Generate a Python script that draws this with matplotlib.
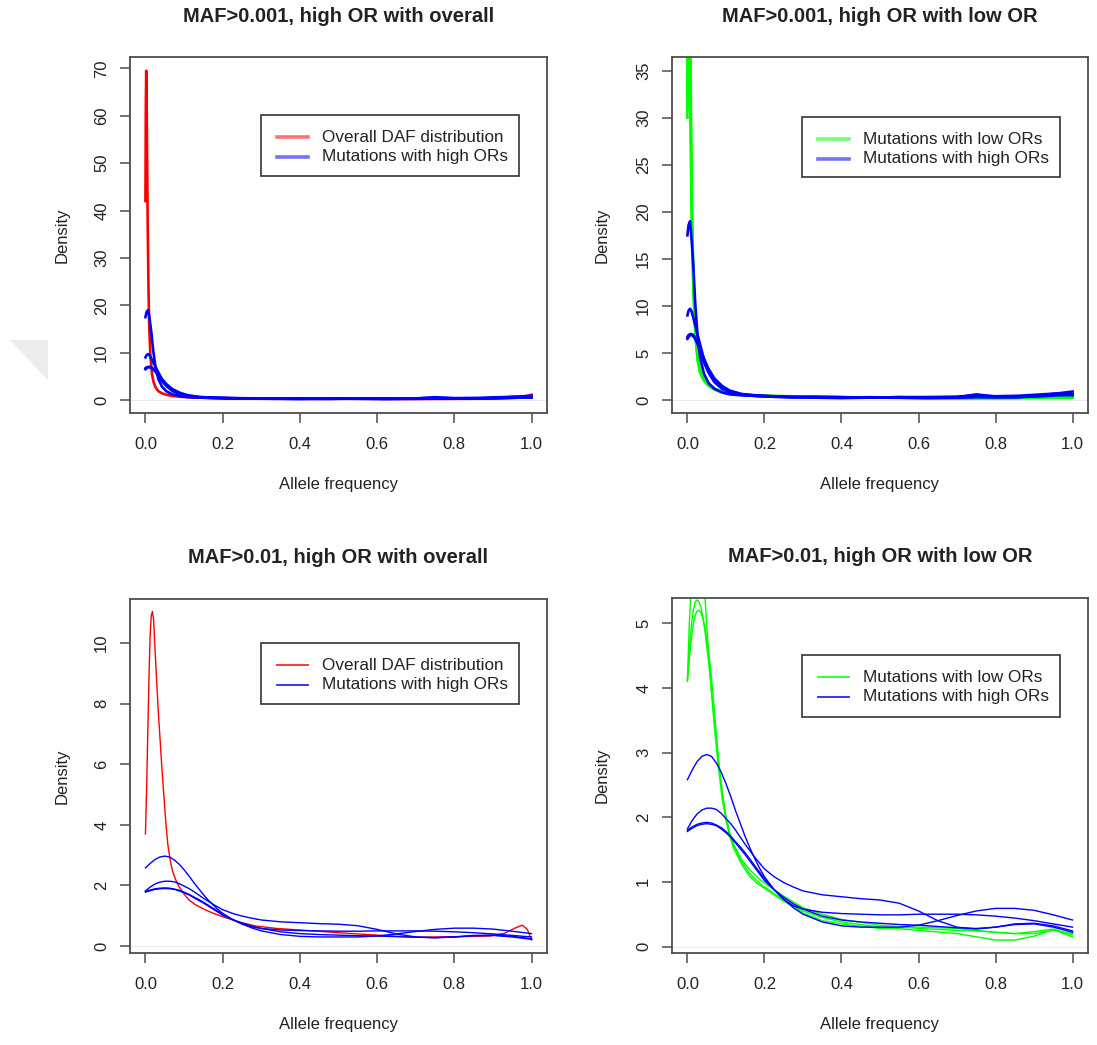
import matplotlib
matplotlib.use("Agg")
import matplotlib.pyplot as plt
from matplotlib.patches import Rectangle, Polygon
import numpy as np

plt.rcParams['font.family'] = ['Liberation Sans', 'DejaVu Sans']

# ---- data (density curves) ----
# MAF>0.001: overall DAF distribution
overall001_x = [0, 0.001, 0.002, 0.003, 0.004, 0.006, 0.008, 0.010, 0.013, 0.017, 0.021,
                0.026, 0.033, 0.043, 0.055, 0.07, 0.09, 0.12, 0.16, 0.22, 0.3, 0.4, 0.5,
                0.6, 0.7, 0.8, 0.9, 0.96, 0.99, 1.0]
overall001_y = [42, 62, 69.5, 64, 54, 36, 23, 15, 9, 5.5, 3.8, 2.7, 1.9, 1.4, 1.1, 0.85,
                0.7, 0.55, 0.45, 0.4, 0.35, 0.3, 0.28, 0.25, 0.22, 0.25, 0.3, 0.45, 0.9, 1.1]

# MAF>0.001: mutations with high ORs (4 sets)
high001_x = [0, 0.003, 0.007, 0.011, 0.015, 0.02, 0.026, 0.033, 0.043, 0.055, 0.07, 0.09,
             0.11, 0.14, 0.18, 0.22, 0.27, 0.33, 0.4, 0.47, 0.55, 0.62, 0.7, 0.75, 0.8,
             0.86, 0.92, 0.96, 1.0]
high001_y = [
    [17.5, 18.6, 19.0, 17.0, 14.5, 10.5, 7.0, 4.5, 2.8, 1.8, 1.2, 0.8, 0.6, 0.5, 0.45,
     0.35, 0.3, 0.35, 0.3, 0.25, 0.3, 0.3, 0.35, 0.5, 0.4, 0.45, 0.6, 0.7, 0.6],
    [9.0, 9.5, 9.7, 9.4, 8.8, 8.0, 7.0, 5.9, 4.3, 3.0, 2.0, 1.3, 0.9, 0.6, 0.5, 0.4, 0.3,
     0.25, 0.2, 0.25, 0.3, 0.25, 0.3, 0.6, 0.35, 0.3, 0.5, 0.7, 0.9],
    [6.7, 6.9, 7.0, 7.0, 6.9, 6.6, 6.1, 5.5, 4.4, 3.3, 2.3, 1.5, 1.0, 0.65, 0.45, 0.35,
     0.3, 0.3, 0.25, 0.3, 0.25, 0.2, 0.25, 0.3, 0.3, 0.35, 0.4, 0.5, 0.6],
    [6.5, 6.7, 6.9, 6.9, 6.8, 6.5, 6.0, 5.2, 4.0, 2.9, 1.9, 1.2, 0.8, 0.55, 0.4, 0.4,
     0.35, 0.3, 0.3, 0.25, 0.3, 0.3, 0.3, 0.35, 0.3, 0.3, 0.45, 0.55, 0.5],
]

# MAF>0.001: mutations with low ORs (3 sets)
low001_x = [0, 0.002, 0.004, 0.006, 0.008, 0.010, 0.012, 0.015, 0.018, 0.022, 0.027,
            0.033, 0.042, 0.055, 0.07, 0.09, 0.12, 0.16, 0.22, 0.3, 0.4, 0.5, 0.6, 0.7,
            0.8, 0.9, 1.0]
low001_y = [
    [30, 40, 44, 40, 33, 24, 18.5, 13.4, 9.5, 6.5, 4.3, 3.0, 2.2, 1.6, 1.2, 0.9, 0.65,
     0.5, 0.4, 0.35, 0.3, 0.25, 0.22, 0.2, 0.2, 0.22, 0.3],
    [33, 42, 48, 44, 36, 27, 20.5, 14.5, 10.2, 7.0, 4.6, 3.2, 2.3, 1.6, 1.2, 0.9, 0.65,
     0.5, 0.45, 0.35, 0.3, 0.28, 0.25, 0.22, 0.2, 0.25, 0.35],
    [31, 38, 41, 38, 31, 23, 17.5, 12.5, 9.0, 6.2, 4.1, 2.9, 2.1, 1.5, 1.1, 0.85, 0.6,
     0.5, 0.4, 0.3, 0.25, 0.25, 0.2, 0.18, 0.2, 0.25, 0.25],
]

# MAF>0.01: overall DAF distribution
overall01_x = [0, 0.003, 0.006, 0.009, 0.012, 0.015, 0.018, 0.021, 0.024, 0.028, 0.033,
               0.038, 0.043, 0.048, 0.053, 0.058, 0.064, 0.07, 0.078, 0.087, 0.1, 0.113,
               0.13, 0.156, 0.18, 0.2, 0.24, 0.286, 0.34, 0.4, 0.5, 0.6, 0.7, 0.806,
               0.893, 0.93, 0.955, 0.976, 0.989, 1.0]
overall01_y = [3.7, 5.2, 7.0, 8.8, 10.2, 10.9, 11.05, 10.8, 10.0, 9.0, 7.8, 6.8, 5.8,
               4.93, 4.05, 3.35, 2.85, 2.48, 2.2, 1.96, 1.72, 1.52, 1.36, 1.19, 1.06,
               0.97, 0.8, 0.66, 0.58, 0.53, 0.44, 0.36, 0.29, 0.31, 0.33, 0.42, 0.58,
               0.69, 0.55, 0.2]

# MAF>0.01: mutations with high ORs (4 sets)
high01_x = [0, 0.0125, 0.025, 0.0375, 0.05, 0.0625, 0.075, 0.0875, 0.1, 0.1125, 0.125,
            0.1375, 0.15, 0.1625, 0.175, 0.1875, 0.2, 0.225, 0.25, 0.275, 0.3, 0.35, 0.4,
            0.45, 0.5, 0.55, 0.6, 0.65, 0.7, 0.75, 0.8, 0.85, 0.9, 0.95, 1.0]
high01_y = [
    [2.58, 2.73, 2.86, 2.94, 2.97, 2.94, 2.84, 2.7, 2.52, 2.32, 2.1, 1.9, 1.7, 1.52,
     1.36, 1.21, 1.08, 0.88, 0.73, 0.63, 0.58, 0.53, 0.51, 0.5, 0.49, 0.49, 0.5, 0.5,
     0.5, 0.49, 0.47, 0.44, 0.4, 0.35, 0.3],
    [1.82, 1.95, 2.05, 2.11, 2.14, 2.14, 2.12, 2.06, 1.98, 1.9, 1.8, 1.69, 1.58, 1.48,
     1.38, 1.29, 1.2, 1.08, 0.99, 0.92, 0.86, 0.8, 0.77, 0.74, 0.72, 0.67, 0.55, 0.4,
     0.3, 0.27, 0.3, 0.35, 0.36, 0.32, 0.24],
    [1.8, 1.85, 1.89, 1.91, 1.92, 1.91, 1.88, 1.84, 1.78, 1.71, 1.62, 1.54, 1.45, 1.35,
     1.25, 1.15, 1.05, 0.88, 0.73, 0.6, 0.5, 0.38, 0.32, 0.3, 0.3, 0.3, 0.33, 0.4, 0.48,
     0.55, 0.59, 0.59, 0.56, 0.49, 0.41],
    [1.78, 1.83, 1.87, 1.89, 1.9, 1.89, 1.87, 1.82, 1.76, 1.69, 1.6, 1.51, 1.42, 1.32,
     1.22, 1.12, 1.02, 0.88, 0.76, 0.66, 0.58, 0.47, 0.41, 0.38, 0.36, 0.34, 0.33, 0.31,
     0.29, 0.28, 0.3, 0.34, 0.35, 0.3, 0.22],
]

# MAF>0.01: mutations with low ORs (3 sets)
low01_x = [0, 0.005, 0.01, 0.015, 0.02, 0.025, 0.03, 0.035, 0.04, 0.045, 0.05, 0.055,
           0.06, 0.065, 0.07, 0.075, 0.08, 0.09, 0.1, 0.11, 0.12, 0.14, 0.16, 0.18, 0.2,
           0.25, 0.3, 0.35, 0.4, 0.5, 0.6, 0.7, 0.75, 0.8, 0.85, 0.9, 0.95, 1.0]
low01_y = [
    [4.12, 4.45, 4.75, 4.98, 5.12, 5.19, 5.2, 5.16, 5.08, 4.95, 4.78, 4.56, 4.3, 4.0,
     3.65, 3.3, 2.95, 2.4, 2.0, 1.75, 1.58, 1.35, 1.2, 1.08, 0.98, 0.78, 0.6, 0.5, 0.42,
     0.33, 0.28, 0.25, 0.24, 0.22, 0.2, 0.23, 0.27, 0.18],
    [4.12, 5.0, 5.6, 6.0, 6.2, 6.3, 6.3, 6.15, 5.85, 5.45, 5.0, 4.55, 4.15, 3.75, 3.4,
     3.1, 2.8, 2.3, 1.95, 1.7, 1.52, 1.28, 1.1, 0.98, 0.9, 0.7, 0.55, 0.45, 0.38, 0.3,
     0.25, 0.2, 0.15, 0.1, 0.1, 0.16, 0.26, 0.15],
    [4.1, 4.6, 4.95, 5.2, 5.32, 5.36, 5.33, 5.25, 5.1, 4.9, 4.65, 4.4, 4.1, 3.8, 3.5,
     3.2, 2.9, 2.4, 2.0, 1.75, 1.56, 1.32, 1.14, 1.02, 0.92, 0.72, 0.52, 0.4, 0.35,
     0.28, 0.3, 0.28, 0.25, 0.22, 0.2, 0.2, 0.25, 0.2],
]

titles = ["MAF>0.001, high OR with overall", "MAF>0.001, high OR with low OR",
          "MAF>0.01, high OR with overall", "MAF>0.01, high OR with low OR"]
legend_overall = ["Overall DAF distribution", "Mutations with high ORs"]
legend_low = ["Mutations with low ORs", "Mutations with high ORs"]
x_ticks = [0.0, 0.2, 0.4, 0.6, 0.8, 1.0]

RED, GREEN, BLUE = "#ff0000", "#00ff00", "#0000ff"
TXT = "#222222"
W, H = 1097, 1045

fig = plt.figure(figsize=(W / 100, H / 100), dpi=100)

# faint grey page artefact at the left edge
fig.patches.append(Polygon([(10 / W, 1 - 340 / H), (48 / W, 1 - 340 / H), (48 / W, 1 - 380 / H)],
                           closed=True, transform=fig.transFigure, facecolor="#ececec",
                           edgecolor="none"))


def make_axes(box):
    l, t, r, b = box
    return fig.add_axes([l / W, 1 - b / H, (r - l) / W, (b - t) / H])


def draw_panel(box, ylim, yticks, title, curves, legend_labels, legend_colors, legbox,
               ylab_x, lw, leg_lw, leg_alpha):
    l, t, r, b = box
    ax = make_axes(box)
    ax.axhline(0, color="#e8e8e8", lw=0.6, zorder=0)
    for xs, ys, c in curves:
        ax.plot(xs, ys, color=c, lw=lw, solid_joinstyle="round")
    ax.set_xlim(-0.04, 1.04)
    ax.set_ylim(*ylim)
    ax.set_xticks(x_ticks)
    ax.set_xticklabels(["%.1f" % v for v in x_ticks])
    ax.set_yticks(yticks)
    ax.set_yticklabels([str(v) for v in yticks], rotation=90, va="center")
    for s in ax.spines.values():
        s.set_color("#4d4d4d")
        s.set_linewidth(1.3)
    ax.tick_params(direction="out", length=7, width=1.1, color="#4d4d4d",
                   labelsize=12, labelcolor=TXT)
    ax.tick_params(axis="x", pad=10)
    ax.tick_params(axis="y", pad=8)

    def to_ax(px, py):
        return (px - l) / (r - l), (b - py) / (b - t)

    # labels and title
    ax.text(0.5, to_ax(0, 484 if t < 500 else 1025)[1], "Allele frequency",
            transform=ax.transAxes, ha="center", va="center", fontsize=12, color=TXT)
    ax.text(to_ax(ylab_x, 0)[0], 0.5, "Density", transform=ax.transAxes, rotation=90,
            ha="center", va="center", fontsize=12, color=TXT)
    ax.text(0.5, to_ax(0, 17 if t < 500 else 557)[1], title, transform=ax.transAxes,
            ha="center", va="center", fontsize=14.5, fontweight="bold", color=TXT)

    # legend box drawn like R's legend()
    ll, lt, lr, lb = legbox
    x0, y1 = to_ax(ll, lt)
    x1, y0 = to_ax(lr, lb)
    ax.add_patch(Rectangle((x0, y0), x1 - x0, y1 - y0, transform=ax.transAxes,
                           facecolor="white", edgecolor="#333333", lw=1.2, zorder=5,
                           clip_on=False))
    for i, (lab, c) in enumerate(zip(legend_labels, legend_colors)):
        ry = to_ax(0, lt + 22 + 19.5 * i)[1]
        ax.plot([to_ax(ll + 16, 0)[0], to_ax(ll + 47, 0)[0]], [ry, ry],
                transform=ax.transAxes, color=c, lw=leg_lw, alpha=leg_alpha, zorder=6,
                clip_on=False)
        ax.text(to_ax(ll + 61, 0)[0], ry, lab, transform=ax.transAxes, ha="left",
                va="center", fontsize=12.3, color=TXT, zorder=6)
    return ax


tl_curves = [(overall001_x, overall001_y, RED)] + [(high001_x, y, BLUE) for y in high001_y]
tr_curves = [(low001_x, y, GREEN) for y in low001_y] + [(high001_x, y, BLUE) for y in high001_y]
bl_curves = [(overall01_x, overall01_y, RED)] + [(high01_x, y, BLUE) for y in high01_y]
br_curves = [(low01_x, y, GREEN) for y in low01_y] + [(high01_x, y, BLUE) for y in high01_y]

draw_panel((130, 57, 547, 413), (-2.74, 72.4), list(range(0, 71, 10)), titles[0], tl_curves,
           legend_overall, [RED, BLUE], (261, 115, 519, 176), 62, 1.9, 2.6, 0.55)
draw_panel((672, 57, 1088, 413), (-1.38, 36.45), list(range(0, 36, 5)), titles[1], tr_curves,
           legend_low, [GREEN, BLUE], (802, 117, 1060, 177), 602, 1.9, 2.6, 0.55)
draw_panel((130, 599, 547, 953), (-0.23, 11.46), list(range(0, 11, 2)), titles[2], bl_curves,
           legend_overall, [RED, BLUE], (261, 643, 519, 704), 62, 1.0, 1.3, 0.85)
draw_panel((672, 598, 1088, 953), (-0.10, 5.39), list(range(0, 6)), titles[3], br_curves,
           legend_low, [GREEN, BLUE], (802, 655, 1060, 717), 602, 1.0, 1.3, 0.85)

fig.savefig("out.png", dpi=100, facecolor="white")
